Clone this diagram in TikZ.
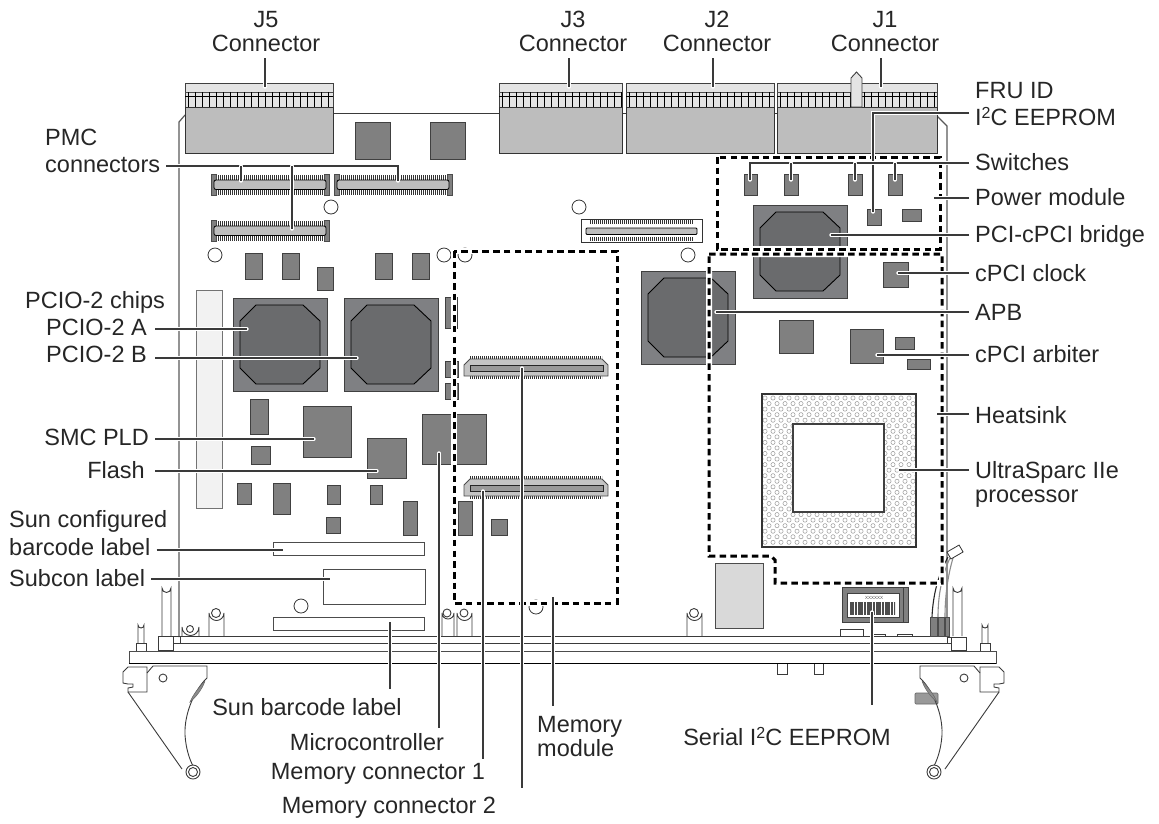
\documentclass[tikz,border=0pt]{standalone}
\usepackage{fontspec}
\setmainfont{Liberation Sans}
\usetikzlibrary{positioning}
\definecolor{chipgray}{HTML}{808080}
\definecolor{cpugray}{HTML}{7F8083}
\definecolor{octgray}{HTML}{6A6B6D}
\definecolor{conngray}{HTML}{BDBDBD}
\definecolor{bandgray}{HTML}{E4E4E4}
\definecolor{inkgray}{HTML}{3A3A3A}
\newcommand{\itwoc}{I\raisebox{6.5pt}{\fontsize{16}{16}\selectfont 2}C}
\tikzset{
  lab/.style={font=\fontsize{23.5}{24}\selectfont,text=black!85,text height=17pt,text depth=1pt,inner xsep=6pt,inner ysep=3pt},
  board/.style={draw=inkgray,line width=0.9pt},
  chip/.style={draw=black!75,fill=chipgray,line width=0.9pt},
  pale/.style={draw=black!70,fill=white,line width=0.9pt},
  teeth/.style={draw=black!80,line width=6pt,dash pattern=on 1.1pt off 0.9pt},
  moduleline/.style={draw=black,line width=3pt,dash pattern=on 6.5pt off 4.2pt,preaction={draw=white,solid,line width=6pt}},
  leader/.style={draw=inkgray,line width=1.3pt,preaction={draw=white,line width=3.4pt,line cap=round}}
}
\newcommand{\bigchip}[2]{
  \begin{scope}[shift={(#1,#2)}]
    \draw[draw=black!75,fill=cpugray,line width=0.9pt] (0,0) rectangle (94,93);
    \draw[draw=black,fill=octgray,line width=0.9pt] (23,7) -- (70,7) -- (87,23) -- (87,70) -- (70,86) -- (23,86) -- (7,70) -- (7,23) -- cycle;
  \end{scope}}
\newcommand{\pmcconn}[2]{
  \begin{scope}[shift={(#1,#2)}]
    \draw[teeth] (3,3.5) -- (115,3.5);
    \draw[teeth] (3,17.5) -- (115,17.5);
    \draw[draw=black!70,fill=chipgray,line width=0.7pt] (0,0) rectangle (5,21) (113,0) rectangle (118,21);
    \draw[draw=black,fill=conngray,line width=0.8pt,rounded corners=2pt] (3,6) rectangle (115,15.5);
  \end{scope}}
\newcommand{\memconn}[2]{
  \begin{scope}[shift={(#1,#2)}]
    \draw[teeth,line width=4pt] (6,2) -- (138,2);
    \draw[teeth,line width=4pt] (6,21) -- (138,21);
    \draw[draw=black!70,fill=conngray!90,line width=0.9pt] (0,9) -- (6,3) -- (138,3) -- (144,9) -- (144,20) -- (0,20) -- cycle;
    \draw[draw=black!85,fill=black!40,line width=0.9pt] (6,9) rectangle (139,15);
  \end{scope}}
\newcommand{\jconn}[2]{
  \draw[draw=black!75,fill=bandgray,line width=0.9pt] (#1,83) rectangle (#2,107);
  \draw[draw=black!70,line width=0.9pt] (#1,92) -- (#2,92);
  \draw[draw=black,line width=0.9pt] (#1,96) -- (#2,96);
  \foreach \tx in {#1,...,#2} {
    \pgfmathparse{int(mod(\tx-#1,7))}
    \ifnum\pgfmathresult=3 \draw[draw=black,line width=0.7pt] (\tx,92) -- (\tx,107); \fi
  }
  \draw[draw=black!80,fill=conngray,line width=0.9pt] (#1,107) rectangle (#2,153);}
\newcommand{\lever}{
  \draw[board] (153,666) -- (207,666) -- (207,678) .. controls (196,688) and (184,712) .. (185,735) .. controls (186,750) and (190,760) .. (193,766);
  \draw[board] (128,692) -- (182,769);
  \draw[board,fill=white] (193,772) circle (7);
  \draw[board] (193,772) circle (4.5);
  \draw[board] (147,667) -- (128,667) -- (123,672) -- (123,683) -- (128,684) -- (133,684) -- (133,687) -- (128,688) -- (128,692) -- (147,692) -- cycle;
  \draw[board] (147,673) -- (153,666);
  \draw[board] (163,678) circle (4);
  \draw[draw=black!60,fill=black!45,line width=0.5pt] (205,681) .. controls (198,688) and (193,695) .. (190,702) .. controls (195,698) and (202,690) .. (205,681);}
\begin{document}
\begin{tikzpicture}[x=1pt,y=-1pt]
  \useasboundingbox (0,0) rectangle (1159,823);

  \draw[board,line width=1.2pt,draw=black!65] (179,637) -- (179,122) -- (185,115);
  \draw[board] (333,113) -- (499,113) (622,113) -- (626,113) (774,113) -- (777,113);
  \draw[board,line width=1.2pt,draw=black!65] (937,116) -- (947,126) -- (947,637);
  \draw[board] (180,636.5) -- (947,636.5) (173,643.5) -- (950,643.5);
  \draw[board] (173,636.5) rectangle (180,643.5);
  \draw[draw=black!70,line width=0.9pt] (129,651) -- (996,651) -- (996,663.5) (129,663.5) -- (129,651);
  \draw[draw=black,line width=1pt] (129,663.5) -- (996,663.5);

  \foreach \xa/\xb/\ytop in {182/199/620,209/224/606,442/454/606,457/472/606,687/702/606} {
    \draw[board] (\xa,636) -- (\xa,\ytop+7) arc (180:0:{(\xb-\xa)/2}) -- (\xb,636);
  }
  \foreach \hx/\hy/\hr in {190/629/3.5,216/613/4.5,447/613/4,464/613/4,694/613/4.5} {
    \draw[board] (\hx,\hy) circle (\hr);
  }
  \foreach \xa/\xb in {162/171,953/962} {
    \draw[board] (\xa,636) -- (\xa,588) arc (180:0:4.5) -- (\xb,636);
  }
  \foreach \xa/\xb in {138/144,982/988} {
    \draw[board] (\xa,643) -- (\xa,625) arc (180:0:3) -- (\xb,643);
    \draw[board] (\xa-2,650.5) -- (\xa-2,643) -- (\xb+2,643) -- (\xb+2,650.5);
  }
  \draw[board,fill=white] (158,636) rectangle (173,650.5);
  \draw[board,fill=white] (951,637) rectangle (966,650.5);
  \draw[board] (947,637) rectangle (951,643.5);
  \foreach \xa/\xb/\ya in {840/863/629,873/885/634,897/912/634} {
    \draw[board] (\xa,636) -- (\xa,\ya) -- (\xb,\ya) -- (\xb,636);
  }
  \foreach \xa/\xb in {777/787,814/823} {
    \draw[board] (\xa,664) -- (\xa,674) -- (\xb,674) -- (\xb,664);
  }

  \draw[draw=black!60,fill=black!40,line width=0.7pt,rounded corners=1pt] (915,693) rectangle (938,704);
  \lever
  \begin{scope}[xshift=1127pt,xscale=-1]
    \lever
  \end{scope}

  \jconn{185}{333}
  \jconn{499}{622}
  \jconn{626}{774}
  \jconn{777}{937}
  \draw[draw=black!75,fill=bandgray,line width=0.9pt] (851,107) -- (851,78) -- (856.5,72) -- (862,78) -- (862,107) -- cycle;

  \foreach \px/\py in {211/174,334/174,211/220} {
    \pmcconn{\px}{\py}
  }
  \draw[draw=black!80,fill=white,line width=0.9pt] (581,219) rectangle (702,242);
  \draw[teeth,line width=4pt] (590,222) -- (693,222);
  \draw[teeth,line width=4pt] (590,239) -- (693,239);
  \draw[draw=black,fill=conngray,line width=0.8pt,rounded corners=1pt] (586,228) rectangle (697,234.5);
  \memconn{464}{356}
  \memconn{464}{476}

  \draw[draw=black!55,fill=black!5,line width=1pt] (196,290) rectangle (222,508);
  \bigchip{233}{298}
  \bigchip{344}{298}
  \bigchip{753}{205}
  \bigchip{641}{271}

  \foreach \xa/\ya/\xb/\yb in {355/122/390/159,430/122/465/159,245/253/262/279,282/253/299/279,317/267/333/290,375/253/392/279,412/253/429/279,
    250/399/268/434,303/406/351/457,367/438/406/478,251/446/270/464,237/483/251/504,273/483/290/514,327/485/340/504,370/485/382/504,326/517/340/533,403/501/417/535,
    422/414/486/464,445/297/457/328,445/361/458/377,445/383/458/399,458/501/472/535,491/519/507/535,
    744/174/757/195,784/174/798/195,848/174/862/195,888/174/902/195,867/209/881/225,902/209/921/221,883/262/908/287,
    779/320/813/353,850/329/883/363,895/337/914/349,907/359/930/369} {
    \draw[chip] (\xa,\ya) rectangle (\xb,\yb);
  }

  \foreach \cx/\cy in {331/207,215/255,444/255,465/255,579/207,688/255,536/607,301/606} {
    \draw[draw=black!80,line width=0.8pt] (\cx,\cy) circle (7);
  }

  \draw[draw=black!80,fill=white,line width=1.2pt] (762,394) rectangle (916,547);
  \begin{scope}
    \clip (763,395) rectangle (915,546);
    \foreach \row [evaluate=\row as \hy using {398+5.55*\row}, evaluate=\row as \hx using {765-4*mod(\row,2)}] in {0,...,26} {
      \foreach \col in {0,...,19} {
        \draw[draw=black!40,line width=0.5pt] (\hx+8*\col,\hy) circle (2.1);
      }
    }
  \end{scope}
  \draw[draw=black!75,fill=white,line width=1.5pt] (793,424) rectangle (884,512);

  \draw[draw=black!70,fill=black!15,line width=0.9pt] (715,563) rectangle (763,628);
  \draw[pale] (273,542) rectangle (424,555);
  \draw[pale] (323,569) rectangle (425,604);
  \draw[pale] (273,617) rectangle (424,630);

  \draw[draw=black!75,fill=chipgray,line width=0.9pt] (842,587) rectangle (908,622);
  \draw[draw=black!75,line width=0.7pt] (903,587) -- (903,622);
  \draw[draw=black!75,fill=white,line width=0.7pt] (847,593) rectangle (899,617);
  \draw[draw=black!70,line width=13pt,dash pattern=on 0.7pt off 0.5pt on 1.3pt off 0.6pt on 0.6pt off 0.8pt] (850,608.5) -- (895,608.5);
  \node[inner sep=0pt,font=\fontsize{4.5}{5}\selectfont,text=black!70] (eepromcode) at (874,598) {XXXXXX};

  \draw[draw=black!85,line width=1.1pt] (948,557) .. controls (938,575) and (933,595) .. (932,617);
  \draw[draw=black!45,line width=1.1pt] (950,558) .. controls (942,575) and (938,595) .. (938,617);
  \draw[draw=black!45,line width=1.1pt] (953,558) .. controls (948,575) and (945,595) .. (945,617);
  \draw[draw=black!70,fill=chipgray,line width=0.7pt] (930,617) rectangle (937,636) (938,617) rectangle (944,636);
  \draw[draw=black!70,fill=chipgray,line width=0.7pt] (945,617) rectangle (949,636);
  \draw[draw=black!80,fill=white,line width=0.8pt,rotate around={30:(955,552)}] (948,548) rectangle (962,556);

  \draw[moduleline] (717,157) rectangle (940,249);
  \draw[moduleline] (709,254) -- (942,254) -- (942,583) -- (775,583) -- (775,560) -- (771,556) -- (709,556) -- cycle;
  \draw[moduleline] (454,251) rectangle (617,603);

  \node[lab] (j5conn) at (266,43) {Connector};
  \node[lab,above=-1pt of j5conn] (j5name) {J5};
  \node[lab] (j3conn) at (573,43) {Connector};
  \node[lab,above=-1pt of j3conn] (j3name) {J3};
  \node[lab] (j2conn) at (717,43) {Connector};
  \node[lab,above=-1pt of j2conn] (j2name) {J2};
  \node[lab] (j1conn) at (885,43) {Connector};
  \node[lab,above=-1pt of j1conn] (j1name) {J1};

  \node[lab,anchor=west] (fruchip) at (969,117) {\itwoc{} EEPROM};
  \node[lab,above=2pt of fruchip.north west,anchor=south west] (fruname) {FRU ID};
  \node[lab,anchor=west] (switches) at (969,162) {Switches};
  \node[lab,anchor=west] (powermod) at (969,197) {Power module};
  \node[lab,anchor=west] (bridge) at (969,234) {PCI-cPCI bridge};
  \node[lab,anchor=west] (clock) at (969,273) {cPCI clock};
  \node[lab,anchor=west] (apb) at (969,312) {APB};
  \node[lab,anchor=west] (arbiter) at (969,354) {cPCI arbiter};
  \node[lab,anchor=west] (heatsink) at (969,415) {Heatsink};
  \node[lab,anchor=west] (ultra) at (969,470) {UltraSparc IIe};
  \node[lab,below=0pt of ultra.south west,anchor=north west] (processor) {processor};

  \node[lab,anchor=west] (pmcconn) at (39,164) {connectors};
  \node[lab,above=2pt of pmcconn.north west,anchor=south west] (pmcname) {PMC};
  \node[lab,inner xsep=8pt,anchor=east] (pcioA) at (155,327) {PCIO-2 A};
  \node[lab,anchor=west] (pciochips) at (19,300) {PCIO-2 chips};
  \node[lab,inner xsep=8pt,anchor=east] (pcioB) at (155,354) {PCIO-2 B};
  \node[lab,anchor=east] (smcpld) at (155,437) {SMC PLD};
  \node[lab,inner xsep=10pt,anchor=east] (flash) at (155,470) {Flash};
  \node[lab,anchor=west] (barcode) at (3,547) {barcode label};
  \node[lab,above=3pt of barcode.north west,anchor=south west] (sunconf) {Sun configured};
  \node[lab,anchor=west] (subcon) at (3,578) {Subcon label};

  \node[lab] (sunbar) at (307,707) {Sun barcode label};
  \node[lab] (micro) at (367,742) {Microcontroller};
  \node[lab] (memone) at (378,771) {Memory connector 1};
  \node[lab] (memtwo) at (389,805) {Memory connector 2};
  \node[lab,anchor=west] (memname) at (531,724) {Memory};
  \node[lab,below=0pt of memname.south west,anchor=north west] (memmod) {module};
  \node[lab] (serial) at (787,737) {Serial \itwoc{} EEPROM};

  \coordinate (j5tip) at (265,87);
  \coordinate (j3tip) at (569,87);
  \coordinate (j2tip) at (713,87);
  \coordinate (j1tip) at (881,87);
  \foreach \lab/\tip in {j5conn/j5tip,j3conn/j3tip,j2conn/j2tip,j1conn/j1tip} {
    \draw[leader,shorten <=3pt] (\tip |- \lab.south) -- (\tip);
  }

  \coordinate (frucorner) at (873,113);
  \coordinate (frutip) at (873,212);
  \draw[leader] (frucorner -| fruchip.west) -- (frucorner) -- (frutip);

  \coordinate (swrail) at (750,163);
  \coordinate (swtipa) at (750,180);
  \coordinate (swtipb) at (791,180);
  \coordinate (swtipc) at (855,180);
  \coordinate (swtipd) at (895,180);
  \draw[leader] (swrail -| switches.west) -- (swrail) -- (swtipa);
  \foreach \tip in {swtipb,swtipc,swtipd} {
    \draw[leader] (swrail -| \tip) -- (\tip);
  }

  \coordinate (powertip) at (934,198);
  \coordinate (bridgetip) at (831,235);
  \coordinate (clocktip) at (898,273);
  \coordinate (apbtip) at (716,312);
  \coordinate (arbitertip) at (877,355);
  \coordinate (heatsinktip) at (937,414);
  \coordinate (ultratip) at (899,470);
  \foreach \lab/\tip in {powermod/powertip,bridge/bridgetip,clock/clocktip,apb/apbtip,arbiter/arbitertip,heatsink/heatsinktip,ultra/ultratip} {
    \draw[leader] (\tip -| \lab.west) -- (\tip);
  }

  \coordinate (pmcrail) at (398,166);
  \coordinate (pmctipa) at (241,181);
  \coordinate (pmctipb) at (292,229);
  \coordinate (pmctipc) at (398,181);
  \draw[leader] (pmcrail -| pmcconn.east) -- (pmcrail) -- (pmctipc);
  \foreach \tip in {pmctipa,pmctipb} {
    \draw[leader] (pmcrail -| \tip) -- (\tip);
  }

  \coordinate (pcioAtip) at (247,329);
  \coordinate (pcioBtip) at (357,358);
  \coordinate (smctip) at (314,439);
  \coordinate (flashtip) at (377,471);
  \coordinate (barcodetip) at (283,550);
  \coordinate (subcontip) at (330,579);
  \foreach \lab/\tip in {pcioA/pcioAtip,pcioB/pcioBtip,smcpld/smctip,flash/flashtip,barcode/barcodetip,subcon/subcontip} {
    \draw[leader] (\tip -| \lab.east) -- (\tip);
  }

  \coordinate (sunbartip) at (390,622);
  \coordinate (microtip) at (439,453);
  \coordinate (memonetip) at (483,491);
  \coordinate (memtwotip) at (522,368);
  \coordinate (memmodtip) at (553,597);
  \coordinate (serialtip) at (872,612);
  \foreach \lab/\tip/\gap in {sunbar/sunbartip/6pt,micro/microtip/2pt,memone/memonetip/0pt,memtwo/memtwotip/5pt,memname/memmodtip/6pt,serial/serialtip/20pt} {
    \draw[leader,shorten >=\gap] (\tip) -- (\tip |- \lab.north);
  }
\end{tikzpicture}
\end{document}
